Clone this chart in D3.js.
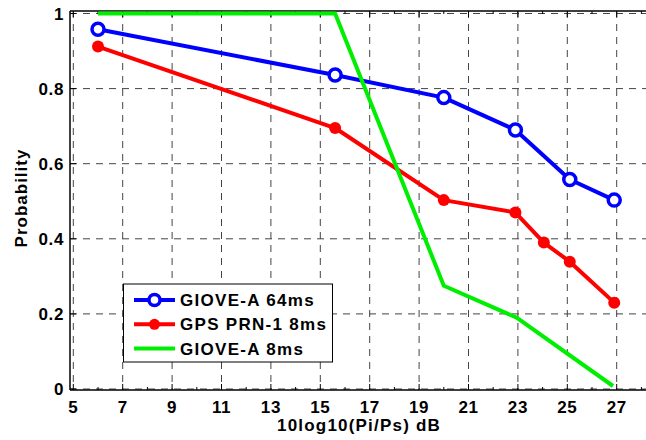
<!DOCTYPE html>
<html>
<head>
<meta charset="utf-8">
<script src="https://cdn.jsdelivr.net/npm/d3@7"></script>
<style>
  body { margin: 0; background: #fff; }
  text { font-family: "Liberation Sans", Arial, sans-serif; font-weight: bold; }
</style>
</head>
<body>
<script>
// series
var giove64X = [6, 15.6, 20, 22.9, 25.1, 26.9];
var giove64Y = [0.958, 0.836, 0.776, 0.69, 0.558, 0.503];

var gpsX = [6, 15.6, 20, 22.9, 24.05, 25.1, 26.9];
var gpsY = [0.912, 0.695, 0.503, 0.47, 0.39, 0.339, 0.23];

var giove8X = [6, 15.6, 20, 22.95, 26.85];
var giove8Y = [1, 1, 0.275, 0.19, 0.008];

var xTicks = [5, 7, 9, 11, 13, 15, 17, 19, 21, 23, 25, 27];
var yTicks = [0, 0.2, 0.4, 0.6, 0.8, 1];
var legendNames = ["GIOVE-A 64ms", "GPS PRN-1 8ms", "GIOVE-A 8ms"];

var W = 646, H = 440;
var frame = {left: 70, top: 11, bottom: 390};

var x = d3.scaleLinear().domain([5, 27]).range([73.3, 616.7]);
var y = d3.scaleLinear().domain([0, 1]).range([389, 13.5]);

var svg = d3.select("body").append("svg")
    .attr("width", W)
    .attr("height", H);

// grid
var grid = svg.append("g")
    .attr("stroke", "#444")
    .attr("stroke-width", 1)
    .attr("stroke-dasharray", "7,6");
grid.selectAll("line.gx").data(xTicks).enter().append("line")
    .attr("x1", d => x(d)).attr("x2", d => x(d))
    .attr("y1", frame.top).attr("y2", frame.bottom);
grid.selectAll("line.gy").data(yTicks).enter().append("line")
    .attr("x1", frame.left).attr("x2", W)
    .attr("y1", d => y(d)).attr("y2", d => y(d));

// axis frame
var axisG = svg.append("g").attr("stroke", "#000").attr("stroke-width", 1.5);
axisG.append("line").attr("x1", frame.left).attr("x2", W).attr("y1", frame.bottom).attr("y2", frame.bottom);
axisG.append("line").attr("x1", frame.left).attr("x2", W).attr("y1", frame.top).attr("y2", frame.top);
axisG.append("line").attr("x1", frame.left).attr("x2", frame.left).attr("y1", frame.top).attr("y2", frame.bottom);

// inward ticks, every unit on x
var allX = d3.range(5, 29);
var tickG = svg.append("g").attr("stroke", "#000").attr("stroke-width", 1);
tickG.selectAll("line.tb").data(allX).enter().append("line")
    .attr("x1", d => x(d)).attr("x2", d => x(d))
    .attr("y1", frame.bottom).attr("y2", d => frame.bottom - (d % 2 ? 6 : 3));
tickG.selectAll("line.tt").data(allX).enter().append("line")
    .attr("x1", d => x(d)).attr("x2", d => x(d))
    .attr("y1", frame.top).attr("y2", d => frame.top + (d % 2 ? 6 : 3));
tickG.selectAll("line.tl").data(yTicks).enter().append("line")
    .attr("x1", frame.left).attr("x2", frame.left + 6)
    .attr("y1", d => y(d)).attr("y2", d => y(d));

// tick labels
svg.append("g").selectAll("text").data(xTicks).enter().append("text")
    .attr("x", d => x(d)).attr("y", 413)
    .attr("text-anchor", "middle")
    .attr("font-size", 17)
    .attr("letter-spacing", 0.6)
    .text(d => d);
svg.append("g").selectAll("text").data(yTicks).enter().append("text")
    .attr("x", 64).attr("y", d => y(d) + 6)
    .attr("text-anchor", "end")
    .attr("font-size", 17)
    .attr("letter-spacing", 0.6)
    .text(d => d);

// axis titles
svg.append("text")
    .attr("x", 359).attr("y", 431)
    .attr("text-anchor", "middle")
    .attr("font-size", 17)
    .attr("letter-spacing", 1.2)
    .text("10log10(Pi/Ps) dB");
svg.append("text")
    .attr("transform", "translate(27,198) rotate(-90)")
    .attr("text-anchor", "middle")
    .attr("font-size", 17)
    .attr("letter-spacing", 1)
    .text("Probability");

// lines
var line = d3.line().x(d => x(d[0])).y(d => y(d[1]));
var series = [
    {pts: d3.zip(giove64X, giove64Y), color: "#0000ff", marker: "circle"},
    {pts: d3.zip(gpsX, gpsY), color: "#ff0000", marker: "dot"},
    {pts: d3.zip(giove8X, giove8Y), color: "#00ee00", marker: null}
];

series.forEach(function(s) {
    svg.append("path")
        .attr("d", line(s.pts))
        .attr("fill", "none")
        .attr("stroke", s.color)
        .attr("stroke-width", 4)
        .attr("stroke-linejoin", "round");
    if (s.marker == "circle") {
        svg.append("g").selectAll("circle").data(s.pts).enter().append("circle")
            .attr("cx", d => x(d[0])).attr("cy", d => y(d[1]))
            .attr("r", 6)
            .attr("fill", "#fff")
            .attr("stroke", s.color)
            .attr("stroke-width", 3.5);
    } else if (s.marker == "dot") {
        svg.append("g").selectAll("circle").data(s.pts).enter().append("circle")
            .attr("cx", d => x(d[0])).attr("cy", d => y(d[1]))
            .attr("r", 6)
            .attr("fill", s.color);
    }
});

// legend
var lg = svg.append("g");
lg.append("rect")
    .attr("x", 123.5).attr("y", 284)
    .attr("width", 209).attr("height", 78)
    .attr("fill", "#fff")
    .attr("stroke", "#000")
    .attr("stroke-width", 1);
legendNames.forEach(function(name, i) {
    var yy = 300 + i * 24.3;
    var s = series[i];
    lg.append("line")
        .attr("x1", 134).attr("x2", 175)
        .attr("y1", yy).attr("y2", yy)
        .attr("stroke", s.color).attr("stroke-width", 4);
    if (s.marker == "circle") {
        lg.append("circle").attr("cx", 154.5).attr("cy", yy).attr("r", 5.5)
            .attr("fill", "#fff").attr("stroke", s.color).attr("stroke-width", 3.5);
    } else if (s.marker == "dot") {
        lg.append("circle").attr("cx", 154.5).attr("cy", yy).attr("r", 5.5)
            .attr("fill", s.color);
    }
    lg.append("text")
        .attr("x", 180).attr("y", yy + 6)
        .attr("font-size", 17)
        .attr("letter-spacing", 1.3)
        .text(name);
});
</script>
</body>
</html>
